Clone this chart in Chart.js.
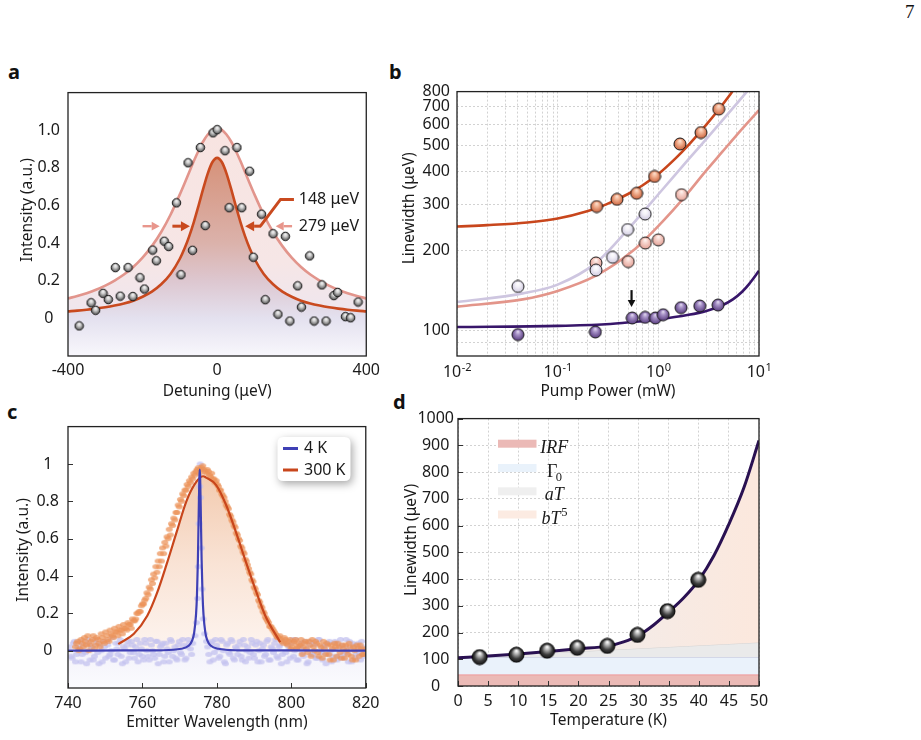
<!DOCTYPE html>
<html>
<head>
<meta charset="utf-8">
<title>Figure 7</title>
<script src="https://cdn.jsdelivr.net/npm/chart.js"></script>
<style>
  html,body{margin:0;padding:0;background:#fff;}
  body{width:921px;height:740px;position:relative;overflow:hidden;font-family:"Noto Sans","DejaVu Sans",sans-serif;color:#111;}
  .lbl{position:absolute;font-weight:700;font-size:20px;line-height:20px;}
  .pg{position:absolute;left:905px;top:2px;font-family:"Liberation Serif","DejaVu Serif",serif;font-size:19px;line-height:19px;}
  canvas{position:absolute;}
</style>
</head>
<body>
<div class="pg">7</div>
<div class="lbl" style="left:8px;top:62px;">a</div>
<div class="lbl" style="left:389px;top:62px;">b</div>
<div class="lbl" style="left:7px;top:402px;">c</div>
<div class="lbl" style="left:393px;top:392px;">d</div>
<canvas id="cA" width="385" height="330" style="left:0;top:75px;"></canvas>
<canvas id="cB" width="385" height="330" style="left:390px;top:75px;"></canvas>
<canvas id="cC" width="385" height="330" style="left:0;top:408px;"></canvas>
<canvas id="cD" width="385" height="335" style="left:390px;top:405px;"></canvas>
<script>
// ================= DATA =================
// ---- Panel a : detuning scan ----
const aDetuning = [-370,-338,-326,-306,-292,-273,-260,-239,-226,-207,
                   -195,-173,-163,-142,-130,-109,-97,-78,-66,-45,
                   -32,-11,0,21,32,53,66,87,97,119,
                   129,150,163,183,195,216,226,248,260,281,
                   292,313,323,344,358,378];
const aIntensity = [-0.04,0.083,0.043,0.133,0.10,0.27,0.118,0.27,0.116,0.216,
                    0.156,0.363,0.306,0.41,0.382,0.614,0.232,0.827,0.362,0.908,
                    0.493,0.986,1.003,0.891,0.588,0.908,0.588,0.782,0.325,0.554,
                    0.099,0.45,0.022,0.436,-0.014,0.173,0.06,0.332,-0.014,0.178,
                    -0.014,0.121,0.138,0.009,0.003,0.087];
const aFitDetuning = [-400,-375,-350,-325,-300,-275,-250,-225,-200,-175,-150,-125,-100,-87.5,-75,-62.5,-50,-37.5,-25,-12.5,
                      0,12.5,25,37.5,50,62.5,75,87.5,100,125,150,175,200,225,250,275,300,325,350,375,400];
const aFitBroad = [0.106,0.119,0.134,0.152,0.174,0.201,0.233,0.273,0.323,0.384,0.459,0.551,0.659,0.717,0.777,0.836,0.891,0.940,0.977,1.002,
                   1.010,1.002,0.977,0.940,0.891,0.836,0.777,0.717,0.659,0.551,0.459,0.384,0.323,0.273,0.233,0.201,0.174,0.152,0.134,0.119,0.106];
const aFitNarrow = [0.037,0.041,0.046,0.052,0.059,0.068,0.079,0.094,0.115,0.142,0.181,0.236,0.317,0.371,0.436,0.512,0.598,0.688,0.771,0.831,
                    0.853,0.831,0.771,0.688,0.598,0.512,0.436,0.371,0.317,0.236,0.181,0.142,0.115,0.094,0.079,0.068,0.059,0.052,0.046,0.041,0.037];
const aXTicks = [-400, 0, 400];
const aYTicks = [0, 0.2, 0.4, 0.6, 0.8, 1.0];
const aWidthLabels = ['148 μeV', '279 μeV'];

// ---- Panel b : linewidth vs pump power ----
const bOrangeP = [0.244,0.388,0.608,0.917,1.64,2.65,3.98];
const bOrangeW = [294,313,330,382,507,560,687];
const bPinkP = [0.24,0.502,0.743,1.0,1.70];
const bPinkW = [180,182,214,220,326];
const bLavP = [0.0403,0.24,0.351,0.495,0.74];
const bLavW = [146.6,169,189,240.6,275.5];
const bPurpP = [0.0403,0.2366,0.55,0.739,0.935,1.116,1.68,2.58,3.92];
const bPurpW = [96.4,98.6,111.4,112,111.4,114.6,121.9,123.7,124.7];
const bOrangeFitP = [0.01,0.02,0.05,0.1,0.2,0.3,0.5,0.7,1,1.5,2,3,4,5,5.5];
const bOrangeFitW = [247,250,256,265,283,299,328,354,390,449,503,600,686,766,806];
const bPinkFitP = [0.01,0.045,0.1,0.24,0.55,1.1,1.74,3,4.33,6,10];
const bPinkFitW = [123,131,141,161,199,258,313,403,474,548,681];
const bLavFitP = [0.01,0.045,0.1,0.24,0.514,1.1,2,4,7.7];
const bLavFitW = [128,138,149,180,244,341,444,601,805];
const bPurpFitP = [0.01,0.1,0.3,0.55,1,2,3,4.33,5.5,6.8,8,10];
const bPurpFitW = [103,104,105.5,107.5,110,114.5,118.5,124.5,131,140,150,168];
const bXGrid = [0.01,0.02,0.03,0.04,0.05,0.06,0.07,0.08,0.09,0.1,0.2,0.3,0.4,0.5,0.6,0.7,0.8,0.9,1,2,3,4,5,6,7,8,9,10];
const bXLabelExp = [-2,-1,0,1];
const bYTicks = [90,100,200,300,400,500,600,700,800];
const bArrowP = [0.542, 0.542];
const bArrowW = [142, 122.5];

// ---- Panel c : 4 K vs 300 K spectra ----
const c300Wl = [742.0,742.6,743.2,743.8,744.4,745.0,745.6,746.2,746.8,747.4,
                748.0,748.6,749.2,749.8,750.4,751.0,751.6,752.2,752.8,753.4,
                754.0,754.6,755.2,755.8,756.4,757.0,757.6,758.2,758.8,759.4,
                760.0,760.6,761.2,761.8,762.4,763.0,763.6,764.2,764.8,765.4,
                766.0,766.6,767.2,767.8,768.4,769.0,769.6,770.2,770.8,771.4,
                772.0,772.6,773.2,773.8,774.4,775.0,775.6,776.2,776.8,777.4,
                778.0,778.6,779.2,779.8,780.4,781.0,781.6,782.2,782.8,783.4,
                784.0,784.6,785.2,785.8,786.4,787.0,787.6,788.2,788.8,789.4,
                790.0,790.6,791.2,791.8,792.4,793.0,793.6,794.2,794.8,795.4,
                796.0,796.6,797.2,797.8,798.4,799.0,799.6,800.2,800.8,801.4,
                802.0,802.6,803.2,803.8,804.4,805.0,805.6,806.2,806.8,807.4,
                808.0,808.6,809.2,809.8,810.4,811.0,811.6,812.2,812.8,813.4,
                814.0,814.6,815.2,815.8,816.4,817.0,817.6,818.2,818.8,819.4,
                742.3,742.9,743.5,744.1,744.7,745.3,745.9,746.5,747.1,747.7,
                748.3,748.9,749.5,750.1,750.7,751.3,751.9,752.5,753.1,753.7,
                754.3,754.9,755.5,756.1,756.7,757.3,757.9,758.5,759.1,759.7,
                760.3,760.9,761.5,762.1,762.7,763.3,763.9,764.5,765.1,765.7,
                766.3,766.9,767.5,768.1,768.7,769.3,769.9,770.5,771.1,771.7,
                772.3,772.9,773.5,774.1,774.7,775.3,775.9,776.5,777.1,777.7,
                778.3,778.9,779.5,780.1,780.7,781.3,781.9,782.5,783.1,783.7,
                784.3,784.9,785.5,786.1,786.7,787.3,787.9,788.5,789.1,789.7,
                790.3,790.9,791.5,792.1,792.7,793.3,793.9,794.5,795.1,795.7,
                796.3,796.9,797.5,798.1,798.7,799.3,799.9,800.5,801.1,801.7,
                802.3,802.9,803.5,804.1,804.7,805.3,805.9,806.5,807.1,807.7,
                808.3,808.9,809.5,810.1,810.7,811.3,811.9,812.5,813.1,813.7,
                814.3,814.9,815.5,816.1,816.7,817.3,817.9,818.5,819.1,819.7];
const c300I = [0.02,0.05,0.01,0.04,0.07,0.03,0.00,0.05,0.08,0.03,
               0.06,0.02,0.07,0.04,0.08,0.05,0.09,0.07,0.10,0.08,
               0.11,0.09,0.12,0.11,0.14,0.12,0.16,0.17,0.20,0.21,
               0.25,0.27,0.31,0.34,0.38,0.41,0.45,0.48,0.52,0.55,
               0.58,0.61,0.65,0.68,0.71,0.74,0.78,0.81,0.84,0.86,
               0.89,0.91,0.93,0.95,0.96,0.98,0.97,0.99,0.96,0.97,
               0.94,0.95,0.92,0.91,0.88,0.86,0.83,0.80,0.77,0.73,
               0.70,0.67,0.63,0.60,0.56,0.53,0.49,0.46,0.42,0.38,
               0.34,0.31,0.27,0.24,0.21,0.18,0.16,0.13,0.12,0.10,
               0.08,0.07,0.06,0.04,0.06,0.03,0.06,0.02,0.05,0.01,
               0.04,0.06,0.02,0.05,-0.01,0.03,0.06,0.00,0.04,-0.03,
               0.02,0.05,-0.02,0.03,-0.05,0.01,0.04,-0.03,0.02,-0.04,
               0.01,0.03,-0.02,0.02,-0.05,0.00,0.03,-0.03,0.01,-0.02,
               0.04,0.00,0.06,0.02,0.05,0.08,0.03,0.06,0.01,0.07,
               0.04,0.09,0.05,0.10,0.06,0.11,0.08,0.12,0.10,0.13,
               0.11,0.14,0.12,0.15,0.14,0.17,0.16,0.20,0.21,0.24,
               0.25,0.28,0.30,0.33,0.36,0.39,0.42,0.45,0.48,0.52,
               0.56,0.60,0.62,0.67,0.70,0.74,0.77,0.80,0.83,0.86,
               0.88,0.90,0.92,0.94,0.97,0.95,0.98,0.97,0.95,0.96,
               0.93,0.92,0.90,0.89,0.86,0.84,0.82,0.78,0.76,0.72,
               0.69,0.66,0.62,0.59,0.55,0.52,0.48,0.44,0.41,0.37,
               0.33,0.30,0.26,0.23,0.20,0.17,0.15,0.13,0.11,0.09,
               0.07,0.08,0.05,0.07,0.04,0.05,0.01,0.04,0.06,0.02,
               0.03,-0.02,0.04,0.01,0.05,-0.03,0.02,0.05,-0.01,0.03,
               -0.04,0.01,0.04,-0.02,0.03,-0.05,0.02,0.04,-0.01,0.03,
               -0.04,0.00,0.04,-0.03,0.02,-0.05,0.01,0.03,-0.02,0.01];
const c4Wl = [740.5,741.1,741.7,742.3,742.9,743.5,744.1,744.7,745.3,745.9,
              746.5,747.1,747.7,748.3,748.9,749.5,750.1,750.7,751.3,751.9,
              752.5,753.1,753.7,754.3,754.9,755.5,756.1,756.7,757.3,757.9,
              758.5,759.1,759.7,760.3,760.9,761.5,762.1,762.7,763.3,763.9,
              764.5,765.1,765.7,766.3,766.9,767.5,768.1,768.7,769.3,769.9,
              770.5,771.1,771.7,772.3,772.9,773.5,774.1,
              774.5,774.8,775.0,775.2,775.4,775.5,775.6,775.8,776.0,
              776.3,776.7,777.2,777.8,
              778.4,779.0,779.6,780.2,780.8,781.4,782.0,782.6,783.2,783.8,
              784.4,785.0,785.6,786.2,786.8,787.4,788.0,788.6,789.2,789.8,
              790.4,791.0,791.6,792.2,792.8,793.4,794.0,794.6,795.2,795.8,
              796.4,797.0,797.6,798.2,798.8,799.4,800.0,800.6,801.2,801.8,
              802.4,803.0,803.6,804.2,804.8,805.4,806.0,806.6,807.2,807.8,
              808.4,809.0,809.6,810.2,810.8,811.4,812.0,812.6,813.2,813.8,
              814.4,815.0,815.6,816.2,816.8,817.4,818.0,818.6,819.2,819.8,
              740.8,741.4,742.0,742.6,743.2,743.8,744.4,745.0,745.6,746.2,
              746.8,747.4,748.0,748.6,749.2,749.8,750.4,751.0,751.6,752.2,
              752.8,753.4,754.0,754.6,755.2,755.8,756.4,757.0,757.6,758.2,
              758.8,759.4,760.0,760.6,761.2,761.8,762.4,763.0,763.6,764.2,
              764.8,765.4,766.0,766.6,767.2,767.8,768.4,769.0,769.6,770.2,
              770.8,771.4,772.0,772.6,773.2,
              777.5,778.1,778.7,779.3,779.9,780.5,781.1,781.7,782.3,782.9,
              783.5,784.1,784.7,785.3,785.9,786.5,787.1,787.7,788.3,788.9,
              789.5,790.1,790.7,791.3,791.9,792.5,793.1,793.7,794.3,794.9,
              795.5,796.1,796.7,797.3,797.9,798.5,799.1,799.7,800.3,800.9,
              801.5,802.1,802.7,803.3,803.9,804.5,805.1,805.7,806.3,806.9,
              807.5,808.1,808.7,809.3,809.9,810.5,811.1,811.7,812.3,812.9,
              813.5,814.1,814.7,815.3,815.9,816.5,817.1,817.7,818.3,818.9,
              819.5];
const c4I = [0.02,-0.04,0.05,-0.02,0.01,-0.06,0.03,-0.01,0.06,-0.05,
             0.02,-0.03,0.04,-0.07,0.00,0.05,-0.04,0.03,-0.02,0.07,
             -0.05,0.01,0.04,-0.03,0.02,-0.06,0.05,-0.01,0.03,-0.04,
             0.06,-0.02,0.01,-0.05,0.04,-0.03,0.06,0.00,-0.04,0.05,
             -0.02,0.03,-0.06,0.04,-0.01,0.06,-0.03,0.02,-0.05,0.05,
             -0.02,0.03,-0.04,0.06,0.01,0.04,0.08,
             0.15,0.28,0.45,0.68,0.88,1.0,0.82,0.55,0.33,
             0.17,0.09,0.05,-0.02,
             0.04,-0.05,0.06,0.01,-0.03,0.05,-0.06,0.03,-0.01,0.06,
             -0.04,0.02,-0.02,0.05,-0.05,0.03,0.00,-0.04,0.06,-0.02,
             0.03,-0.06,0.04,0.01,-0.03,0.05,-0.05,0.02,-0.01,0.06,
             -0.04,0.03,-0.02,0.05,-0.06,0.01,0.04,-0.03,0.06,-0.05,
             0.02,-0.01,0.05,-0.07,0.03,-0.02,0.04,-0.04,0.06,0.00,
             -0.05,0.03,-0.02,0.05,-0.06,0.01,0.04,-0.03,0.06,-0.04,
             0.02,-0.01,0.05,-0.06,0.03,-0.02,0.04,-0.05,0.02,-0.01,
             -0.03,0.04,-0.06,0.02,0.05,-0.02,0.00,-0.07,0.04,0.01,
             -0.05,0.06,-0.01,0.03,-0.06,0.02,0.05,-0.03,0.00,-0.05,
             0.04,-0.02,0.06,-0.07,0.01,0.03,-0.04,0.05,-0.01,0.02,
             -0.06,0.04,-0.03,0.06,0.00,-0.05,0.03,-0.02,0.05,-0.07,
             0.02,0.04,-0.03,0.01,-0.06,0.05,0.00,-0.04,0.03,-0.01,
             0.06,-0.05,0.02,0.04,-0.02,
             0.02,-0.06,0.05,-0.01,0.03,-0.04,0.06,0.00,-0.07,0.04,
             -0.02,0.05,-0.05,0.01,0.03,-0.03,0.06,-0.06,0.02,-0.01,
             0.04,-0.04,0.05,0.00,-0.06,0.03,-0.02,0.06,-0.05,0.01,
             0.04,-0.03,0.02,-0.07,0.05,-0.01,0.03,-0.04,0.06,0.00,
             -0.05,0.02,0.04,-0.03,0.01,-0.06,0.05,-0.02,0.03,-0.04,
             0.06,-0.01,0.02,-0.07,0.04,0.00,-0.03,0.05,-0.05,0.02,
             0.03,-0.02,0.06,-0.06,0.01,0.04,-0.04,0.02,-0.01,0.05,
             -0.03];
const c4FitWl = [740,755,765,770.4,772.4,773.4,773.9,774.4,774.65,774.9,775.15,775.3,775.4,775.5,775.65,775.9,776.15,776.4,776.9,777.4,778.4,780.4,785.4,800,820];
const c4FitI  = [0,0.001,0.002,0.01,0.026,0.057,0.097,0.194,0.298,0.485,0.776,0.93,0.97,0.93,0.776,0.485,0.298,0.194,0.097,0.057,0.026,0.01,0.002,0.001,0];
const c300FitWl = [753.5,757.7,761.3,763.9,766.5,769.2,771.8,774.5,776.3,777.1,779.8,782.4,785.1,787.7,790.4,793.0,797.0];
const c300FitI  = [0.035,0.091,0.187,0.308,0.463,0.636,0.80,0.905,0.934,0.927,0.887,0.784,0.636,0.481,0.325,0.187,0.045];
const cXTicks = [740,760,780,800,820];
const cYTicks = [0,0.2,0.4,0.6,0.8,1];
const cLegend = ['4 K', '300 K'];

// ---- Panel d : linewidth vs temperature ----
const dTemp = [3.6,9.7,14.8,19.8,24.8,29.8,34.8,39.9];
const dWidth = [108,117,132,143,150,191,280,397];
const dFitT = [0,5,10,15,20,25,27.5,30,32.5,35,37.5,40,42.5,45,47.5,50];
const dFitW = [106,112,120,129,139,150,165,189,228,277,330,396,487,605,742,918];
const dBandT = [0,50];
const dIRF = [43,43];
const dGamma0 = [107,107];
const dLinear = [107,163];
const dXTicks = [0,5,10,15,20,25,30,35,40,45,50];
const dYTicks = [0,100,200,300,400,500,600,700,800,900,1000];
const dLegendBase = ['IRF','Γ','aT','bT'];
const dLegendIdx = ['','0','','5'];

// ================= HELPERS =================
const FONT = '"Noto Sans","DejaVu Sans",sans-serif';
Chart.defaults.font.family = FONT;
Chart.defaults.font.size = 16;
Chart.defaults.color = '#1a1a1a';
Chart.defaults.animation = false;
Chart.defaults.events = [];
Chart.defaults.plugins.legend.display = false;
Chart.defaults.plugins.tooltip.enabled = false;

const xy = (xs, ys) => xs.map((x, i) => ({x: x, y: ys[i]}));
const setTicks = arr => s => { s.ticks = arr.map(v => ({value: v})); };

function sphere(d, stops, edge) {
  const s = Math.ceil(d + 2), c = document.createElement('canvas');
  c.width = s; c.height = s;
  const g = c.getContext('2d'), r = d / 2, cx = s / 2, cy = s / 2;
  const gr = g.createRadialGradient(cx, cy - r * 0.55, r * 0.05, cx, cy + r * 0.1, r * 1.15);
  stops.forEach(st => gr.addColorStop(st[0], st[1]));
  g.beginPath(); g.arc(cx, cy, r, 0, Math.PI * 2);
  g.fillStyle = gr; g.fill();
  g.lineWidth = 1; g.strokeStyle = edge; g.stroke();
  return c;
}
function blob(w, h, color) {
  const c = document.createElement('canvas'); c.width = w + 2; c.height = h + 2;
  const g = c.getContext('2d');
  g.fillStyle = color; g.beginPath();
  g.ellipse((w + 2) / 2, (h + 2) / 2, w / 2, h / 2, 0, 0, Math.PI * 2); g.fill();
  return c;
}
function arrow(ctx, x1, y1, x2, y2, color, lw, head) {
  const ang = Math.atan2(y2 - y1, x2 - x1);
  const hx = x2 - head * Math.cos(ang), hy = y2 - head * Math.sin(ang);
  ctx.strokeStyle = color; ctx.fillStyle = color; ctx.lineWidth = lw;
  ctx.beginPath(); ctx.moveTo(x1, y1); ctx.lineTo(hx, hy); ctx.stroke();
  ctx.beginPath(); ctx.moveTo(x2, y2);
  ctx.lineTo(hx + head * 0.55 * Math.sin(ang), hy - head * 0.55 * Math.cos(ang));
  ctx.lineTo(hx - head * 0.55 * Math.sin(ang), hy + head * 0.55 * Math.cos(ang));
  ctx.closePath(); ctx.fill();
}
function framePlugin(cfg) {
  return {
    id: 'framePlugin',
    afterDatasetsDraw(chart) {
      const {ctx, chartArea: a, scales} = chart;
      ctx.save();
      if (cfg.innerTicks) {
        ctx.strokeStyle = '#333'; ctx.lineWidth = 1;
        scales.x.ticks.forEach(t => {
          const p = Math.round(scales.x.getPixelForValue(t.value)) + 0.5;
          ctx.beginPath(); ctx.moveTo(p, a.bottom); ctx.lineTo(p, a.bottom - 5); ctx.stroke();
        });
        scales.y.ticks.forEach(t => {
          const p = Math.round(scales.y.getPixelForValue(t.value)) + 0.5;
          ctx.beginPath(); ctx.moveTo(a.left, p); ctx.lineTo(a.left + 5, p); ctx.stroke();
        });
      }
      ctx.strokeStyle = '#222'; ctx.lineWidth = 1.3;
      ctx.strokeRect(a.left, a.top, a.right - a.left, a.bottom - a.top);
      if (cfg.overlay) cfg.overlay(chart, ctx);
      ctx.restore();
    },
    afterDraw(chart) {
      const ctx = chart.ctx;
      ctx.save();
      ctx.font = '15.5px ' + FONT; ctx.fillStyle = '#1a1a1a';
      ctx.textAlign = 'center'; ctx.textBaseline = 'middle';
      ctx.translate(cfg.yTitleX, cfg.yTitleY); ctx.rotate(-Math.PI / 2);
      ctx.fillText(cfg.yTitle, 0, 0);
      ctx.restore();
      if (cfg.after) { ctx.save(); cfg.after(chart, ctx); ctx.restore(); }
    }
  };
}
function xAxis(o) {
  return {
    type: o.type || 'linear', position: 'bottom', min: o.min, max: o.max,
    afterBuildTicks: setTicks(o.ticks),
    grid: o.grid ? {display: true, color: '#d2d2d2', lineWidth: 1, drawTicks: false} : {display: false, drawTicks: false},
    border: {display: false, dash: [2, 2]},
    ticks: {display: o.showLabels !== false, autoSkip: false, maxRotation: 0, minRotation: 0, padding: o.pad, font: {size: 16}, callback: o.cb || (v => String(v))},
    title: {display: true, text: o.title, font: {size: 15.5}, color: '#1a1a1a', padding: {top: 0, bottom: o.titlePad}},
    afterFit: s => { s.height = o.h; }
  };
}
function yAxis(o) {
  return {
    type: o.type || 'linear', position: 'left', min: o.min, max: o.max,
    afterBuildTicks: setTicks(o.ticks),
    grid: o.grid ? {display: true, color: '#d2d2d2', lineWidth: 1, drawTicks: false} : {display: false, drawTicks: false},
    border: {display: false, dash: [2, 2]},
    ticks: {autoSkip: false, padding: o.pad, crossAlign: 'center', font: {size: 16}, callback: o.cb || (v => String(v))},
    title: {display: false},
    afterFit: s => { s.width = o.w; }
  };
}

// ================= PANEL A =================
(function () {
  const grey = sphere(8.5, [[0, '#f4f4f4'], [0.3, '#d6d6d6'], [1, '#343434']], '#1a1a1a');
  const narrowFill = c => {
    const ch = c.chart, a = ch.chartArea;
    if (!a) return 'rgba(0,0,0,0)';
    const y = ch.scales.y;
    const g = ch.ctx.createLinearGradient(0, y.getPixelForValue(0.85), 0, a.bottom);
    g.addColorStop(0, '#d6927a'); g.addColorStop(0.43, '#dbb2ab'); g.addColorStop(0.62, '#ddc7d0');
    g.addColorStop(0.81, '#e4e1ef'); g.addColorStop(1, '#f8f7fc');
    return g;
  };
  const broadFill = c => {
    const ch = c.chart, a = ch.chartArea;
    if (!a) return 'rgba(0,0,0,0)';
    const y = ch.scales.y;
    const g = ch.ctx.createLinearGradient(0, y.getPixelForValue(1.0), 0, y.getPixelForValue(0));
    g.addColorStop(0, '#f8e4e1'); g.addColorStop(0.7, '#f6e6e6'); g.addColorStop(1, '#eee6ef');
    return g;
  };
  new Chart(document.getElementById('cA'), {
    type: 'line',
    data: {datasets: [
      {data: xy(aDetuning, aIntensity), showLine: false, pointStyle: grey, pointRadius: 4, order: 0},
      {data: xy(aFitDetuning, aFitBroad), borderColor: '#e2958c', borderWidth: 2.6, pointRadius: 0,
       fill: 2, backgroundColor: broadFill, cubicInterpolationMode: 'monotone', order: 2},
      {data: xy(aFitDetuning, aFitNarrow), borderColor: '#c94a1f', borderWidth: 2.6, pointRadius: 0,
       fill: 'start', backgroundColor: narrowFill, cubicInterpolationMode: 'monotone', order: 1}
    ]},
    options: {
      responsive: false, devicePixelRatio: 1,
      layout: {padding: {top: 10, right: 15, bottom: 0, left: 0}},
      scales: {
        x: xAxis({min: -400, max: 400, ticks: aXTicks, pad: 5, title: 'Detuning (μeV)', titlePad: 4, h: 49}),
        y: yAxis({min: -0.2, max: 1.2, ticks: aYTicks, pad: 8, w: 68, cb: v => v === 0 ? '0' : v.toFixed(1)})
      }
    },
    plugins: [framePlugin({
      yTitle: 'Intensity (a.u.)', yTitleX: 27.5, yTitleY: 135,
      overlay: (chart, ctx) => {
        const X = v => chart.scales.x.getPixelForValue(v), Y = v => chart.scales.y.getPixelForValue(v);
        const yA = Y(0.49), yB = Y(0.632);
        arrow(ctx, X(-200), yA, X(-154), yA, '#e8968c', 2.4, 8);
        arrow(ctx, X(201), yA, X(157), yA, '#e8968c', 2.4, 8);
        arrow(ctx, X(-120), yA, X(-73), yA, '#c94a1f', 3, 9);
        arrow(ctx, X(118), yA, X(75), yA, '#c94a1f', 3, 9);
        ctx.beginPath(); ctx.moveTo(X(116), yA); ctx.lineTo(X(170), yB); ctx.lineTo(X(206), yB);
        ctx.strokeStyle = '#c94a1f'; ctx.lineWidth = 3; ctx.stroke();
        ctx.font = '16px ' + FONT; ctx.fillStyle = '#1a1a1a'; ctx.textAlign = 'left'; ctx.textBaseline = 'middle';
        ctx.fillText(aWidthLabels[0], X(219), yB);
        ctx.fillText(aWidthLabels[1], X(219), yA);
      }
    })]
  });
})();

// ================= PANEL B =================
(function () {
  const sOr = sphere(12, [[0, '#fde2d2'], [0.3, '#f4b798'], [1, '#c14f27']], '#1a1a1a');
  const sPk = sphere(12, [[0, '#fff6f3'], [0.3, '#f7d6cf'], [1, '#e0968a']], '#1a1a1a');
  const sLv = sphere(12, [[0, '#ffffff'], [0.35, '#f3f1f8'], [1, '#c6c0da']], '#1a1a1a');
  const sPu = sphere(12, [[0, '#e2d9f0'], [0.3, '#a893c8'], [1, '#47286f']], '#1a1a1a');
  const line = (xs, ys, col, ord) => ({data: xy(xs, ys), borderColor: col, borderWidth: 2.6, pointRadius: 0,
    fill: false, cubicInterpolationMode: 'monotone', order: ord});
  const pts = (xs, ys, st) => ({data: xy(xs, ys), showLine: false, pointStyle: st, pointRadius: 5, order: 0});
  new Chart(document.getElementById('cB'), {
    type: 'line',
    data: {datasets: [
      line(bLavFitP, bLavFitW, '#cec6e0', 5),
      line(bPinkFitP, bPinkFitW, '#e3958a', 4),
      line(bOrangeFitP, bOrangeFitW, '#c8461c', 3),
      line(bPurpFitP, bPurpFitW, '#38166a', 2),
      pts(bLavP, bLavW, sLv), pts(bPinkP, bPinkW, sPk),
      pts(bOrangeP, bOrangeW, sOr), pts(bPurpP, bPurpW, sPu)
    ]},
    options: {
      responsive: false, devicePixelRatio: 1,
      layout: {padding: {top: 10, right: 16, bottom: 0, left: 0}},
      scales: {
        x: xAxis({type: 'logarithmic', min: 0.01, max: 10, ticks: bXGrid, grid: true, showLabels: false, pad: 6,
                  title: 'Pump Power (mW)', titlePad: 4, h: 49}),
        y: yAxis({type: 'logarithmic', min: 80, max: 800, ticks: bYTicks, grid: true, pad: 7, w: 67,
                  cb: v => v >= 100 ? String(v) : ''})
      }
    },
    plugins: [framePlugin({
      yTitle: 'Linewidth (μeV)', yTitleX: 20, yTitleY: 133.3,
      overlay: (chart, ctx) => {
        const xs = chart.scales.x, ys = chart.scales.y, a = chart.chartArea;
        arrow(ctx, xs.getPixelForValue(bArrowP[0]), ys.getPixelForValue(bArrowW[0]),
              xs.getPixelForValue(bArrowP[1]), ys.getPixelForValue(bArrowW[1]), '#111', 2.2, 7);
        ctx.fillStyle = '#1a1a1a'; ctx.textAlign = 'left'; ctx.textBaseline = 'alphabetic';
        bXLabelExp.forEach(e => {
          const px = xs.getPixelForValue(Math.pow(10, e));
          ctx.font = '16px ' + FONT; const w1 = ctx.measureText('10').width;
          ctx.font = '11px ' + FONT; const w2 = ctx.measureText(String(e)).width;
          const x0 = px - (w1 + w2) / 2;
          ctx.font = '16px ' + FONT; ctx.fillText('10', x0, a.bottom + 21);
          ctx.font = '11px ' + FONT; ctx.fillText(String(e), x0 + w1 + 0.5, a.bottom + 14.5);
        });
      }
    })]
  });
})();

// ================= PANEL C =================
(function () {
  const bOr = blob(7, 5, 'rgba(236,146,88,0.72)');
  const bLv = blob(7, 5, 'rgba(195,193,239,0.75)');
  const orangeFill = c => {
    const ch = c.chart, a = ch.chartArea;
    if (!a) return 'rgba(0,0,0,0)';
    const y = ch.scales.y;
    const g = ch.ctx.createLinearGradient(0, y.getPixelForValue(0.93), 0, y.getPixelForValue(0));
    g.addColorStop(0, '#f3cbb0'); g.addColorStop(0.5, '#f9e3d5'); g.addColorStop(1, '#fdf4ef');
    return g;
  };
  const blueFill = c => {
    const ch = c.chart, a = ch.chartArea;
    if (!a) return 'rgba(0,0,0,0)';
    const y = ch.scales.y;
    const g = ch.ctx.createLinearGradient(0, y.getPixelForValue(1), 0, a.bottom);
    g.addColorStop(0, '#f4f3fb'); g.addColorStop(0.83, '#f3f2fa'); g.addColorStop(1, '#fbfbfe');
    return g;
  };
  new Chart(document.getElementById('cC'), {
    type: 'line',
    data: {datasets: [
      {data: xy(c4FitWl, c4FitI), borderColor: '#3f40b5', borderWidth: 2.2, pointRadius: 0, fill: false,
       cubicInterpolationMode: 'monotone', order: 0},
      {data: xy(c300FitWl, c300FitI), borderColor: '#c8461c', borderWidth: 2.2, pointRadius: 0, fill: false,
       cubicInterpolationMode: 'monotone', order: 1},
      {data: xy(c300Wl, c300I), showLine: false, pointStyle: bOr, pointRadius: 3, order: 2},
      {data: xy(c4Wl, c4I), showLine: false, pointStyle: bLv, pointRadius: 3, order: 3},
      {data: xy(c4FitWl, c4FitI), borderWidth: 0, borderColor: 'rgba(0,0,0,0)', pointRadius: 0, fill: 'start',
       backgroundColor: blueFill, cubicInterpolationMode: 'monotone', order: 4},
      {data: xy(c300FitWl, c300FitI), borderWidth: 0, borderColor: 'rgba(0,0,0,0)', pointRadius: 0, fill: 'origin',
       backgroundColor: orangeFill, cubicInterpolationMode: 'monotone', order: 5}
    ]},
    options: {
      responsive: false, devicePixelRatio: 1,
      layout: {padding: {top: 10, right: 15, bottom: 0, left: 0}},
      scales: {
        x: xAxis({min: 740, max: 820, ticks: cXTicks, pad: 5.5, title: 'Emitter Wavelength (nm)', titlePad: 5.7, h: 50}),
        y: yAxis({min: -0.2, max: 1.2, ticks: cYTicks, pad: 9, w: 68,
                  cb: v => (v === 0 || v === 1) ? String(v) : v.toFixed(1)})
      }
    },
    plugins: [framePlugin({
      innerTicks: true,
      yTitle: 'Intensity (a.u.)', yTitleX: 24, yTitleY: 142,
      after: (chart, ctx) => {
        const bx = 277.5, by = 29, bw = 73, bh = 44, r = 6;
        ctx.save();
        ctx.shadowColor = 'rgba(0,0,0,0.35)'; ctx.shadowBlur = 8; ctx.shadowOffsetX = 2; ctx.shadowOffsetY = 3;
        ctx.beginPath();
        ctx.moveTo(bx + r, by); ctx.lineTo(bx + bw - r, by); ctx.quadraticCurveTo(bx + bw, by, bx + bw, by + r);
        ctx.lineTo(bx + bw, by + bh - r); ctx.quadraticCurveTo(bx + bw, by + bh, bx + bw - r, by + bh);
        ctx.lineTo(bx + r, by + bh); ctx.quadraticCurveTo(bx, by + bh, bx, by + bh - r);
        ctx.lineTo(bx, by + r); ctx.quadraticCurveTo(bx, by, bx + r, by); ctx.closePath();
        ctx.fillStyle = '#ffffff'; ctx.fill();
        ctx.restore();
        const rows = [{y: by + 11.5, c: '#3f40b5'}, {y: by + 33, c: '#c8461c'}];
        ctx.font = '16px ' + FONT; ctx.textAlign = 'left'; ctx.textBaseline = 'middle';
        rows.forEach((rw, i) => {
          ctx.strokeStyle = rw.c; ctx.lineWidth = 3;
          ctx.beginPath(); ctx.moveTo(bx + 5.5, rw.y); ctx.lineTo(bx + 20.5, rw.y); ctx.stroke();
          ctx.fillStyle = '#1a1a1a'; ctx.fillText(cLegend[i], bx + 26.5, rw.y);
        });
      }
    })]
  });
})();

// ================= PANEL D =================
(function () {
  const black = sphere(15, [[0, '#ffffff'], [0.18, '#c8c8c8'], [0.6, '#3a3a3a'], [1, '#050505']], '#000');
  const peach = c => {
    const ch = c.chart, a = ch.chartArea;
    if (!a) return 'rgba(0,0,0,0)';
    const g = ch.ctx.createLinearGradient(a.left, 0, a.right, 0);
    g.addColorStop(0, '#efecec'); g.addColorStop(0.55, '#f4ebe7'); g.addColorStop(1, '#fce8dd');
    return g;
  };
  new Chart(document.getElementById('cD'), {
    type: 'line',
    data: {datasets: [
      {data: xy(dTemp, dWidth), showLine: false, pointStyle: black, pointRadius: 6, order: 0},
      {data: xy(dFitT, dFitW), borderColor: '#2a1152', borderWidth: 3, pointRadius: 0, fill: 2,
       backgroundColor: peach, cubicInterpolationMode: 'monotone', order: 1},
      {data: xy(dBandT, dLinear), borderColor: '#d3d3d3', borderWidth: 1.3, pointRadius: 0, fill: 3,
       backgroundColor: '#eaeaea', order: 2},
      {data: xy(dBandT, dGamma0), borderColor: '#bcc5e4', borderWidth: 1.3, pointRadius: 0, fill: 4,
       backgroundColor: '#eaf2fb', order: 3},
      {data: xy(dBandT, dIRF), borderColor: '#f08787', borderWidth: 1.6, pointRadius: 0, fill: 'start',
       backgroundColor: '#ebbab6', order: 4}
    ]},
    options: {
      responsive: false, devicePixelRatio: 1,
      layout: {padding: {top: 10, right: 16, bottom: 0, left: 0}},
      scales: {
        x: xAxis({min: 0, max: 50, ticks: dXTicks, grid: true, pad: 6, title: 'Temperature (K)', titlePad: 9.7, h: 54}),
        y: yAxis({min: 0, max: 1000, ticks: dYTicks, grid: true, pad: 4, w: 68})
      }
    },
    plugins: [framePlugin({
      innerTicks: true,
      yTitle: 'Linewidth (μeV)', yTitleX: 21.7, yTitleY: 135,
      after: (chart, ctx) => {
        const rows = [{y: 38.7, c: '#ebb9b6'}, {y: 63, c: '#e9f2fb'}, {y: 86.3, c: '#efefef'}, {y: 109.5, c: '#fcebe2'}];
        const cx = 164.5;
        rows.forEach((rw, i) => {
          ctx.fillStyle = rw.c; ctx.fillRect(108, rw.y - 4, 38.5, 8);
          const base = dLegendBase[i], idx = dLegendIdx[i];
          const baseFont = (i === 1 ? '' : 'italic ') + '18px "Liberation Serif","DejaVu Serif",serif';
          const idxFont = '12.5px "Liberation Serif","DejaVu Serif",serif';
          ctx.font = baseFont; const w1 = ctx.measureText(base).width;
          ctx.font = idxFont; const w2 = idx ? ctx.measureText(idx).width : 0;
          const gap = i === 1 ? -1.5 : 0.5;
          const x0 = cx - (w1 + w2 + gap) / 2, yb = rw.y + 9;
          ctx.fillStyle = '#1a1a1a'; ctx.textAlign = 'left'; ctx.textBaseline = 'alphabetic';
          ctx.font = baseFont; ctx.fillText(base, x0, yb);
          if (idx) {
            ctx.font = idxFont;
            ctx.fillText(idx, x0 + w1 + gap, i === 1 ? yb + 4 : yb - 8);
          }
        });
      }
    })]
  });
})();
</script>
</body>
</html>
